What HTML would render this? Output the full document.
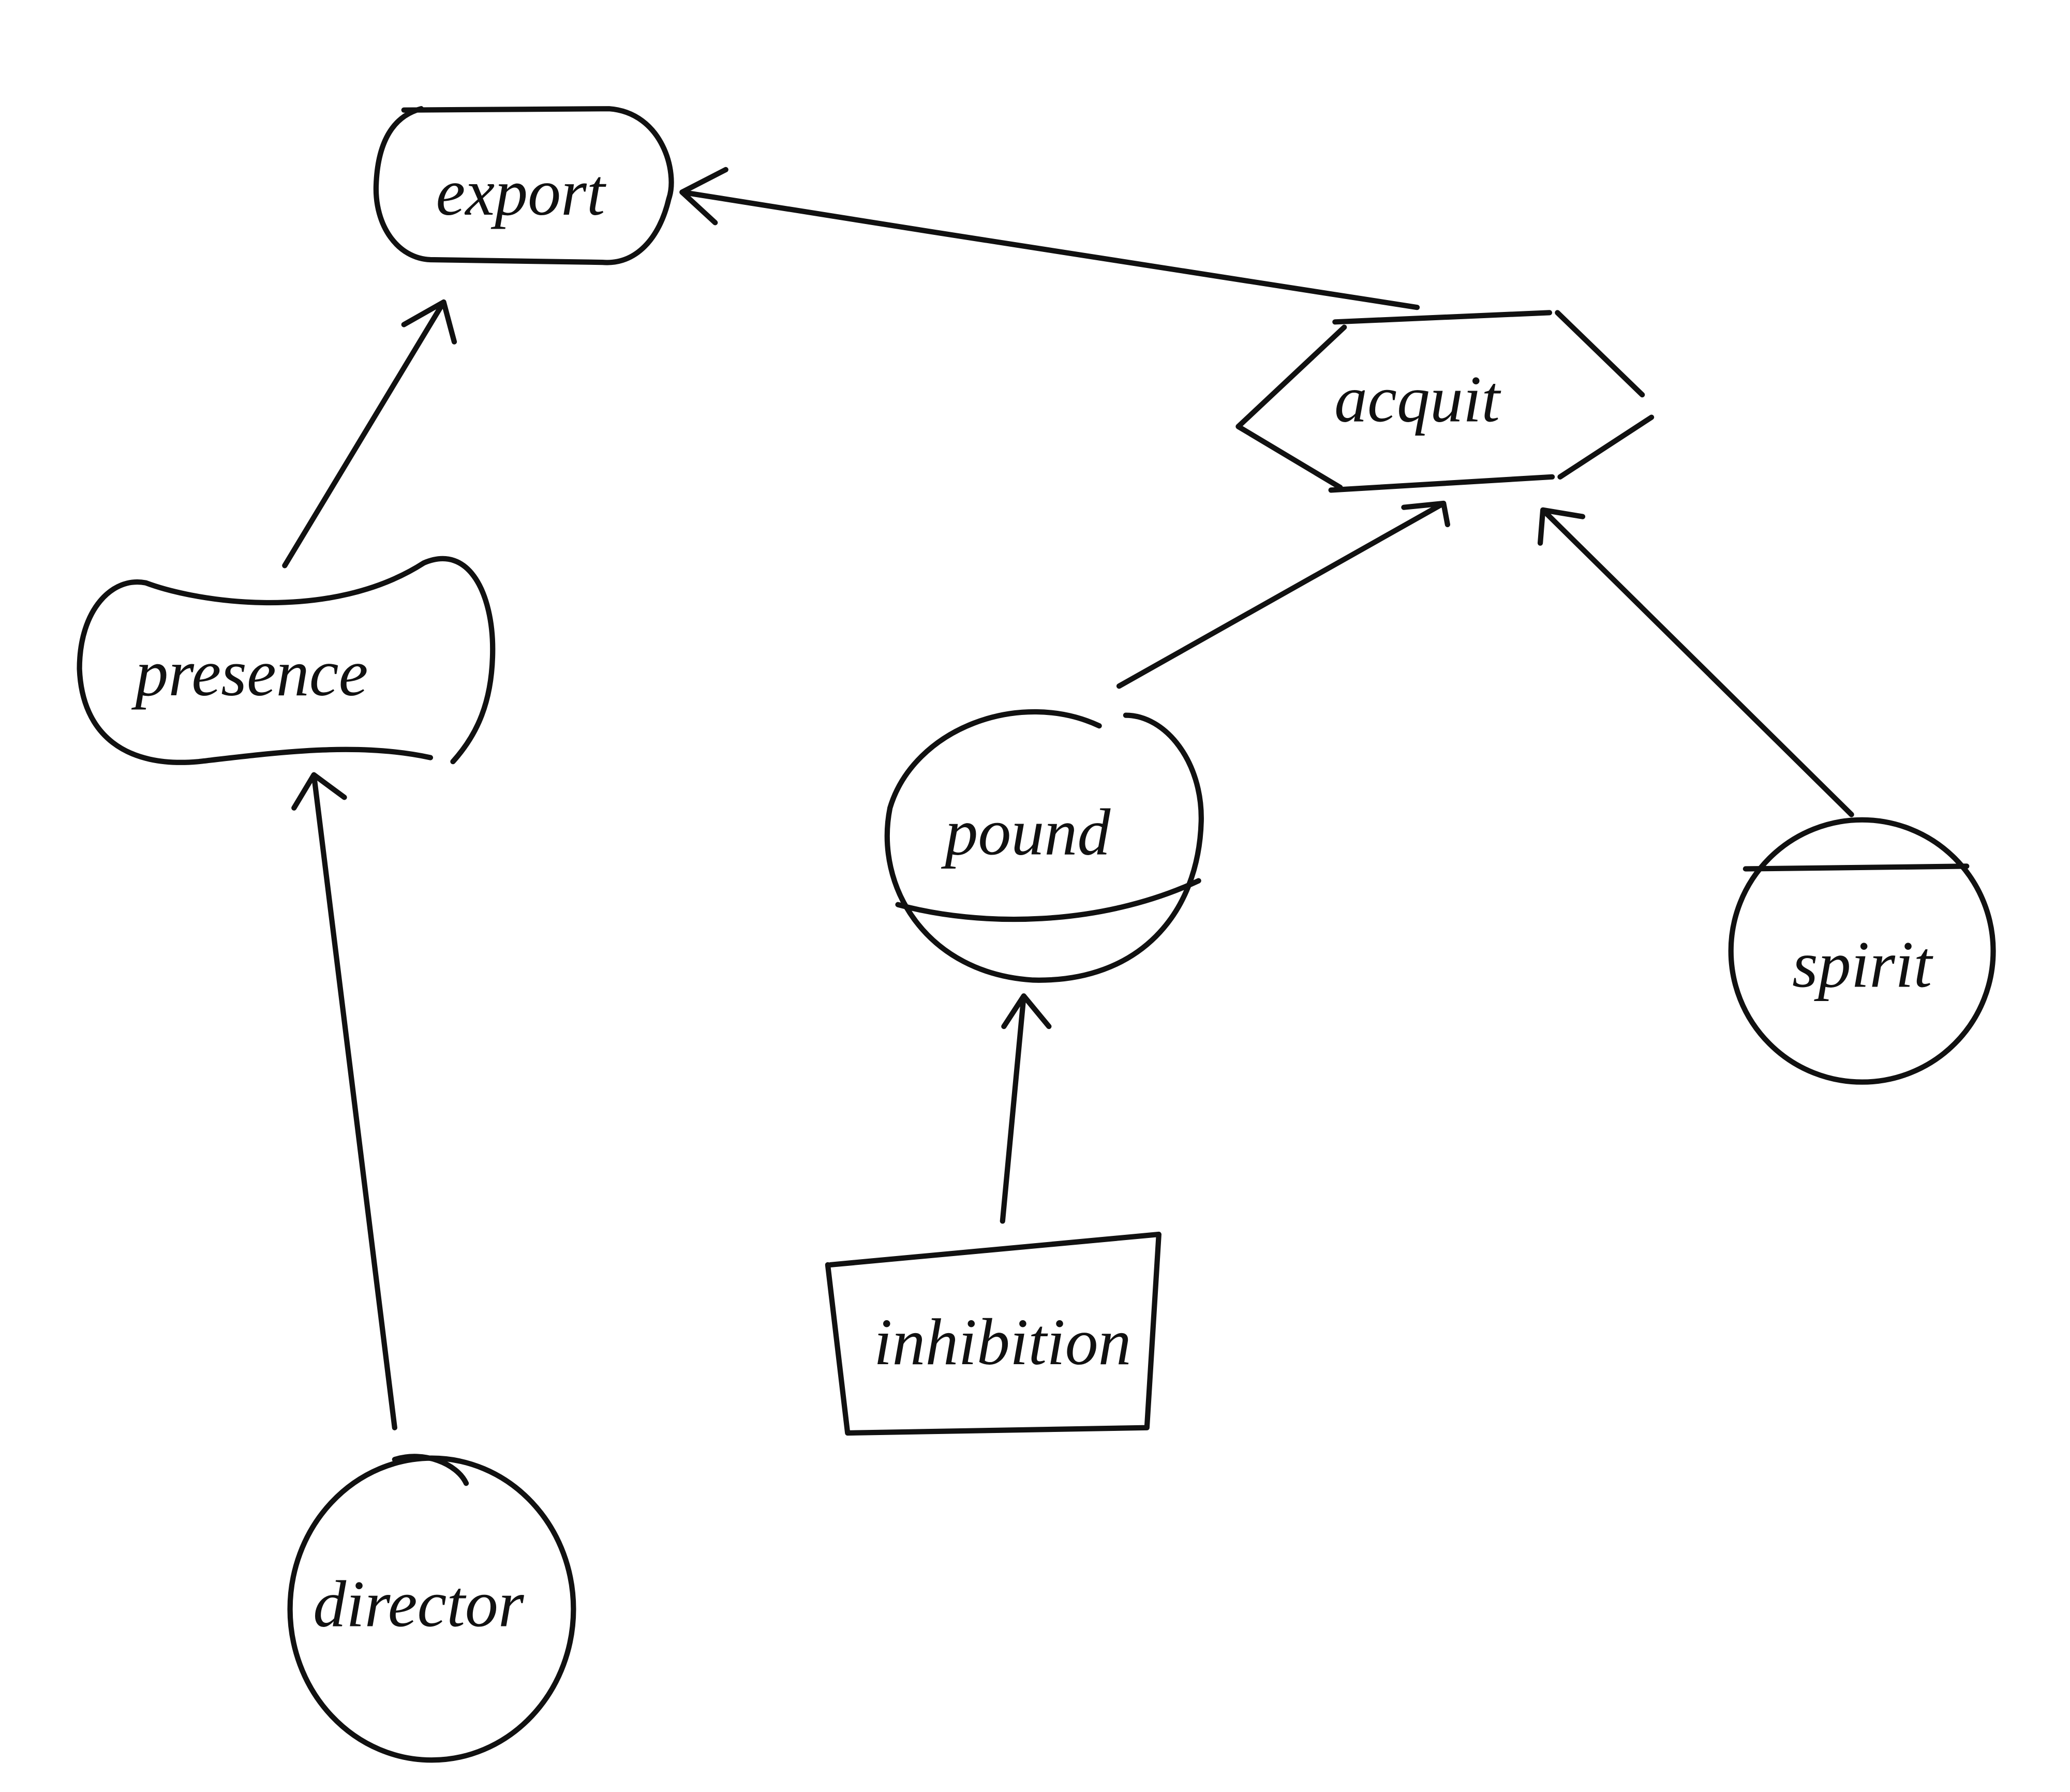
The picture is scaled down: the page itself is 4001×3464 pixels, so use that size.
<!DOCTYPE html>
<html><head><meta charset="utf-8"><style>
html,body{margin:0;padding:0;background:#fff;width:4001px;height:3464px;overflow:hidden}
svg{display:block}
text{font-family:"Liberation Serif",serif;font-style:italic;font-size:50px;fill:#111;text-anchor:middle}
</style></head><body>
<svg width="4001" height="3464" viewBox="0 0 1563 1353" xmlns="http://www.w3.org/2000/svg">
<g fill="none" stroke="#111" stroke-width="4" stroke-linecap="round" stroke-linejoin="round">
<!-- export -->
<path d="M305,83 L460,82 C500,85 512,130 505,150 C498,180 480,200 455,198 L325,196 C300,195 283,170 284,140 C285,110 295,88 318,82"/>
<!-- acquit -->
<path d="M1008,243 L1170,236 M1176,236 L1240,298 M1247,315 L1178,360 M1172,360 L1005,370 M1012,368 L935,322 L1015,247"/>
<!-- presence -->
<path d="M110,440 C150,455 250,470 320,425 C355,410 372,450 372,490 C372,530 360,555 342,575 M325,572 C270,560 210,568 150,575 C95,580 62,555 60,505 C60,460 85,435 110,440"/>
<!-- pound -->
<path d="M830,548 C770,520 690,550 672,610 C660,670 700,735 780,740 C860,742 905,690 907,620 C908,575 880,540 850,540"/>
<path d="M678,683 C740,700 830,700 905,665"/>
<!-- spirit -->
<circle cx="1406" cy="718" r="99"/>
<path d="M1318,656 L1485,654"/>
<!-- director -->
<ellipse cx="326" cy="1215" rx="107" ry="114"/>
<path d="M298,1102 C320,1095 345,1105 352,1120"/>
<!-- inhibition -->
<path d="M627,955 L875,932 L866,1078 L640,1082 L625,955"/>
<!-- edges -->
<path d="M215,427 L335,228 M305,245 L335,228 L343,258"/>
<path d="M1070,232 C900,205 700,175 515,145 M548,128 L515,145 L540,168"/>
<path d="M845,518 L1090,380 M1060,383 L1090,380 L1093,396"/>
<path d="M1398,615 L1165,385 M1163,410 L1165,385 L1195,390"/>
<path d="M298,1078 L237,585 M222,610 L237,585 L260,602"/>
<path d="M757,922 L773,752 M758,775 L773,752 L792,775"/>
</g>
<text x="393" y="162">export</text>
<text x="1070" y="318">acquit</text>
<text x="190" y="525">presence</text>
<text x="776" y="645">pound</text>
<text x="1406" y="745">spirit</text>
<text x="316" y="1228">director</text>
<text x="757" y="1030">inhibition</text>
</svg>
</body></html>
